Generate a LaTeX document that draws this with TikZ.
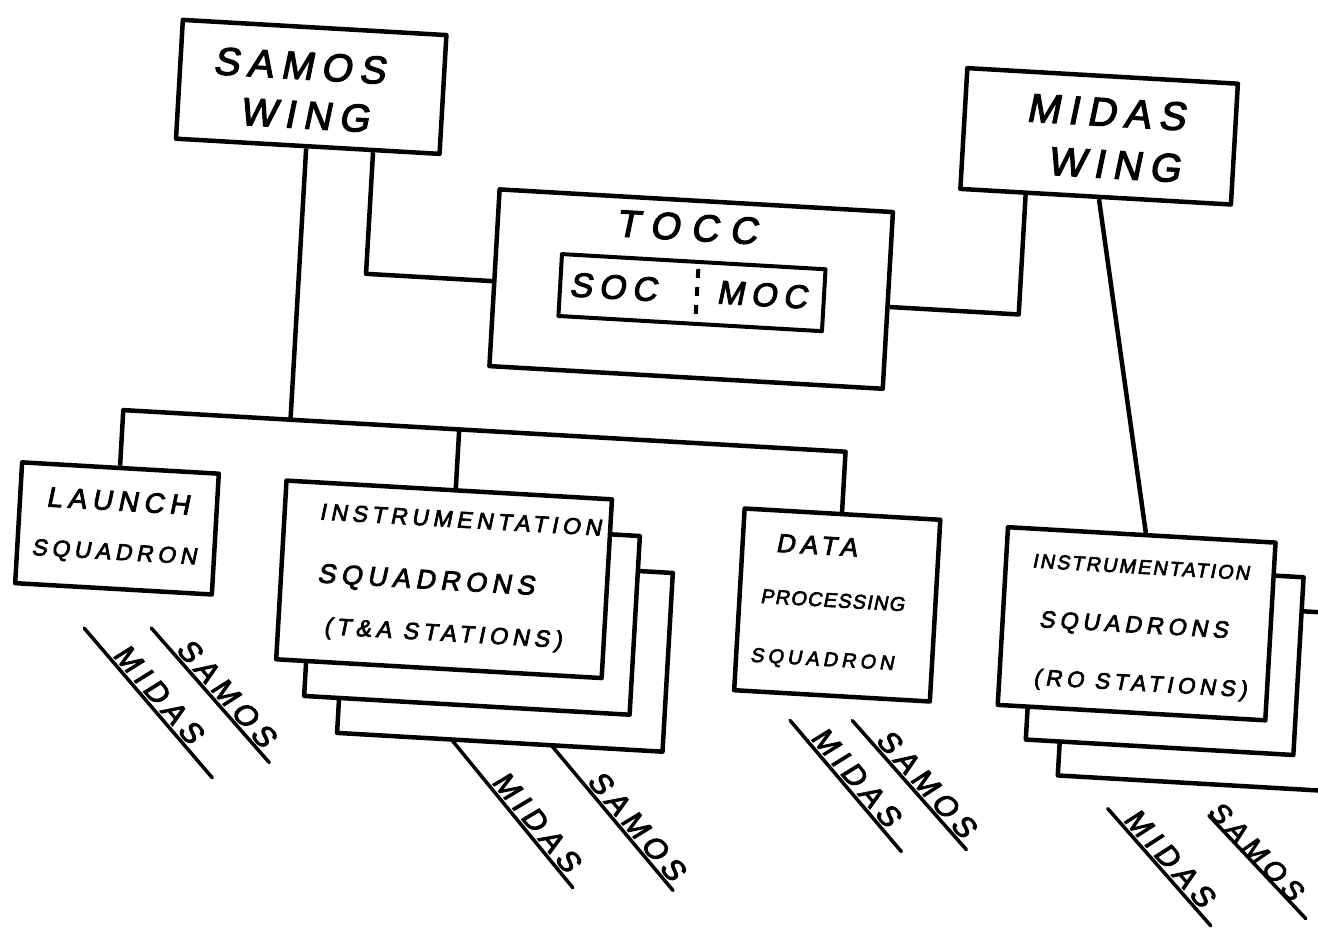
\documentclass[tikz,border=0pt]{standalone}
\usepackage{fontspec}
\usetikzlibrary{calc}
\newfontfamily\hand[FakeSlant=0.15,LetterSpace=20,FakeBold=3]{Liberation Sans}
\begin{document}
\begin{tikzpicture}[x=1pt,y=-1pt,
  box/.style={draw=black, line width=4.5pt, fill=white, rectangle, inner sep=0pt, line join=round},
  conn/.style={draw=black, line width=4.5pt, line join=round},
  uline/.style={draw=black, line width=3.5pt, line cap=round},
  fs/.style={inner sep=0pt, font=\hand\fontsize{#1}{#1}\selectfont},
  lab/.style={fs=30, anchor=south, inner sep=3pt},
]
\useasboundingbox (0,0) rectangle (1318,930);
\fill[white] (0,0) rectangle (1318,930);
\begin{scope}
\clip (0,0) rectangle (1318,930);
\begin{scope}[rotate around={-3.3:(659,465)}, transform shape]

% junction coordinates
\coordinate (j1) at (355.5,291);
\coordinate (j2) at (1009.5,294);
\coordinate (busM) at (288.5,441);
\coordinate (busL) at (121,441);
\coordinate (busI) at (457.5,441);
\coordinate (busR) at (844.5,441);
\coordinate (mA) at (1083,172);
\coordinate (mB) at (1149,507);

% label line end points
\coordinate (lm1) at (94.5,661);   \coordinate (lm2) at (231,803);
\coordinate (ls1) at (161.5,657);  \coordinate (ls2) at (287,784.5);
\coordinate (tm1) at (465.7,749);  \coordinate (tm2) at (597.3,892);
\coordinate (ts1) at (566,749.3);  \coordinate (ts2) at (697.5,889);
\coordinate (dm1) at (804.6,712.5);\coordinate (dm2) at (923.2,837);
\coordinate (ds1) at (866.7,709);  \coordinate (ds2) at (988,831.3);
\coordinate (rm1) at (1126.8,782.2);\coordinate (rm2) at (1236.5,893.3);
\coordinate (rs1) at (1228.2,783.4);\coordinate (rs2) at (1331,880.8);

% label lines
\draw[uline] (lm1) -- (lm2);
\draw[uline] (ls1) -- (ls2);
\draw[uline] (tm1) -- (tm2);
\draw[uline] (ts1) -- (ts2);
\draw[uline] (dm1) -- (dm2);
\draw[uline] (ds1) -- (ds2);
\draw[uline] (rm1) -- (rm2);
\draw[uline] (rs1) -- (rs2);

\node[lab, rotate=-46.1] (lLm) at ($(lm1)!0.5!(lm2)$) {MIDAS};
\node[lab, rotate=-45.5] (lLs) at ($(ls1)!0.55!(ls2)$) {SAMOS};
\node[lab, rotate=-47.4] (lTm) at ($(tm1)!0.62!(tm2)$) {MIDAS};
\node[lab, rotate=-46.7] (lTs) at ($(ts1)!0.62!(ts2)$) {SAMOS};
\node[lab, rotate=-46.4] (lDm) at ($(dm1)!0.5!(dm2)$) {MIDAS};
\node[lab, rotate=-45.2] (lDs) at ($(ds1)!0.56!(ds2)$) {SAMOS};
\node[lab, rotate=-45.3] (lRm) at ($(rm1)!0.5!(rm2)$) {MIDAS};
\node[lab, fs=28, rotate=-43.5] (lRs) at ($(rs1)!0.41!(rs2)$) {SAMOS};

% boxes
\node[box, minimum width=264pt, minimum height=119pt] (samos) at (290,107.5) {};
\node[box, minimum width=271pt, minimum height=121pt] (midas) at (1079.5,111.5) {};
\node[box, minimum width=394pt, minimum height=177pt] (tocc) at (681,287.5) {};
\node[box, line width=4pt, minimum width=264pt, minimum height=62pt] (ops) at (682,291) {};
\node[box, minimum width=197pt, minimum height=121pt] (launch) at (121.5,559.5) {};
\node[box, minimum width=326pt, minimum height=179pt] (instC) at (516,661.5) {};
\node[box, minimum width=326pt, minimum height=179pt] (instB) at (481,626.5) {};
\node[box, minimum width=326pt, minimum height=179pt] (instA) at (451,591.5) {};
\node[box, minimum width=196pt, minimum height=182pt] (data) at (845,594.5) {};
\node[box, minimum width=268pt, minimum height=178pt] (roC) at (1209,663) {};
\node[box, minimum width=268pt, minimum height=178pt] (roB) at (1175,629) {};
\node[box, minimum width=268pt, minimum height=178pt] (roA) at (1145,596) {};

% connectors
\draw[conn] (samos.south -| j1) -- (j1) -- (tocc.west |- j1);
\draw[conn] (tocc.east |- j2) -- (j2) -- (midas.south -| j2);
\draw[conn] (samos.south -| busM) -- (busM);
\draw[conn] (launch.north -| busL) -- (busL) -- (busR) -- (data.north -| busR);
\draw[conn] (busI) -- (instA.north -| busI);
\draw[conn] (midas.south -| mA) -- (roA.north -| mB);

% texts
\node[fs=39] (tSamos1) at (277,87) {SAMOS};
\node[fs=39] (tSamos2) at (285,136) {WING};
\node[fs=40] (tMidas1) at (1085,87) {MIDAS};
\node[fs=40] (tMidas2) at (1096,139) {WING};
\node[fs=38] (tTocc) at (673,226) {\addfontfeature{LetterSpace=30}TOCC};
\node[fs=34] (tSoc) at (603,290) {SOC};
\node[fs=33] (tMoc) at (752,289) {MOC};
\coordinate (dv1) at (687,267);
\coordinate (dv2) at (687,312);
\draw[line width=4pt, dash pattern=on 9pt off 9pt] (dv1) -- (dv2);

\node[fs=28] (tL1) at (121,532) {LAUNCH};
\node[fs=23] (tL2) at (120,585) {SQUADRON};

\node[fs=23] (tI1) at (464,531) {INSTRUMENTATION};
\node[fs=27] (tI2) at (433,595) {SQUADRONS};
\node[fs=23.5] (tI3) at (453,647) {(T\&A STATIONS)};

\node[fs=26] (tD1) at (821,536) {DATA};
\node[fs=20] (tD2) at (840,590) {\addfontfeature{LetterSpace=6}PROCESSING};
\node[fs=20] (tD3) at (833,651) {SQUADRON};

\node[fs=20] (tR1) at (1146,539) {\addfontfeature{LetterSpace=10}INSTRUMENTATION};
\node[fs=23.5] (tR2) at (1142,599) {SQUADRONS};
\node[fs=22.5] (tR3) at (1152,657) {(RO STATIONS)};

\end{scope}
\end{scope}
\end{tikzpicture}
\end{document}
